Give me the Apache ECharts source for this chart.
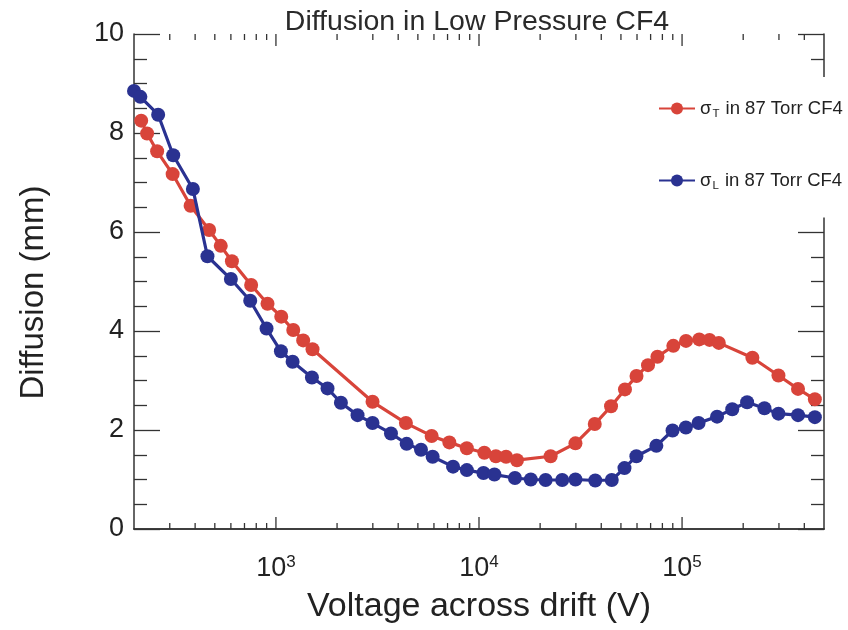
<!DOCTYPE html>
<html>
<head>
<meta charset="utf-8">
<script src="https://cdn.jsdelivr.net/npm/echarts@6/dist/echarts.min.js"></script>
<style>html,body{margin:0;padding:0;background:#fff;}#c{width:848px;height:630px;}</style>
</head>
<body>
<div id="c"></div>
<script>
// Data
const voltsT = [217,232,260,310,380,469,535,607,755,909,1062,1217,1362,1514,2990,4366,5845,7145,8710,10620,12110,13590,15380,22530,29850,37160,44690,52330,59670,67970,75640,90570,104600,121500,136500,151700,222000,298300,372400,450800];
const sigmaT = [8.25,7.99,7.63,7.17,6.53,6.04,5.72,5.41,4.93,4.55,4.29,4.02,3.81,3.63,2.57,2.14,1.88,1.75,1.63,1.54,1.47,1.46,1.39,1.47,1.73,2.12,2.48,2.82,3.09,3.31,3.48,3.70,3.80,3.83,3.82,3.76,3.46,3.10,2.83,2.62];
const voltsL = [200,215,263,312,390,460,600,747,899,1058,1208,1504,1795,2089,2523,2990,3686,4403,5180,5910,7450,8710,10520,11910,15030,17990,21290,25690,29850,37370,45070,52050,59570,74710,89760,104400,120600,148700,176700,209100,254500,298300,372400,450800];
const sigmaL = [8.85,8.73,8.37,7.55,6.87,5.51,5.05,4.61,4.05,3.59,3.38,3.06,2.84,2.55,2.30,2.14,1.93,1.72,1.60,1.46,1.26,1.19,1.13,1.10,1.03,1.00,0.99,0.99,1.00,0.98,0.99,1.23,1.47,1.68,1.99,2.05,2.14,2.27,2.42,2.56,2.44,2.33,2.30,2.26];
const xMajorTicks = [1000,10000,100000];
const xMinorTicks = [300,400,500,600,700,800,900,2000,3000,4000,5000,6000,7000,8000,9000,20000,30000,40000,50000,60000,70000,80000,90000,200000,300000,400000];
const xMin = 200, xMax = 500000;
const yMin = 0, yMax = 10, yStep = 2;
const titleText = 'Diffusion in Low Pressure CF4';
const xName = 'Voltage across drift (V)';
const yName = 'Diffusion (mm)';
const legendT = {name: 'sigmaT', sym: 'σ', sub: 'T', rest: ' in 87 Torr CF4'};
const legendL = {name: 'sigmaL', sym: 'σ', sub: 'L', rest: ' in 87 Torr CF4'};

const RED = '#d8443a', BLUE = '#2a3291', AX = '#333333', TXT = '#222222';
const FONT = '"Liberation Sans", Arial, Helvetica, sans-serif';

const chart = echarts.init(document.getElementById('c'), null, {renderer: 'canvas'});
const pair = (xs, ys) => xs.map((x, i) => [x, ys[i]]);
const legendRich = {
  s: {fontSize: 18.5, fontFamily: FONT, color: TXT, lineHeight: 22},
  sub: {fontSize: 11.5, fontFamily: FONT, color: TXT, lineHeight: 11, verticalAlign: 'bottom', padding: [0, 1, 0, 1]}
};
function legendFmt(item) {
  return n => '{s|' + item.sym + '}{sub|' + item.sub + '}{s|' + item.rest + '}';
}
const axisLine = {show: true, lineStyle: {color: AX, width: 1.5}};
const tickSeries = (vals, len) => ({
  type: 'custom', xAxisIndex: 0, yAxisIndex: 0, silent: true, clip: false, z: 1,
  data: vals.map(v => [v, yMin]),
  renderItem: function (params, api) {
    const b = api.coord([api.value(0), yMin]);
    const t = api.coord([api.value(0), yMax]);
    const st = {stroke: AX, lineWidth: 1.3};
    return {type: 'group', children: [
      {type: 'line', shape: {x1: b[0], y1: b[1], x2: b[0], y2: b[1] - len}, style: st},
      {type: 'line', shape: {x1: t[0], y1: t[1], x2: t[0], y2: t[1] + len}, style: st}
    ]};
  }
});

const option = {
  backgroundColor: '#fff',
  animation: false,
  title: {
    text: titleText, left: 477, top: 8, textAlign: 'center', padding: 0,
    textStyle: {fontFamily: FONT, fontSize: 28.5, fontWeight: 'normal', color: '#2a2a2a'}
  },
  legend: [
    {data: [legendT.name], orient: 'vertical', left: 638, top: 77, itemWidth: 36, itemHeight: 15,
     backgroundColor: '#ffffff', padding: [22, 14, 28, 20], z: 10,
     formatter: legendFmt(legendT), textStyle: {rich: legendRich}},
    {data: [legendL.name], orient: 'vertical', left: 638, top: 143, itemWidth: 36, itemHeight: 15,
     backgroundColor: '#ffffff', padding: [28, 14, 26, 20], z: 10,
     formatter: legendFmt(legendL), textStyle: {rich: legendRich}}
  ],
  grid: {left: 134, right: 24, top: 34, bottom: 101, containLabel: false},
  xAxis: [
    {type: 'log', logBase: 10, min: xMin, max: xMax, position: 'bottom',
     name: xName, nameLocation: 'middle', nameGap: 61,
     nameTextStyle: {fontFamily: FONT, fontSize: 34, color: TXT},
     axisLine: axisLine,
     axisTick: {show: false},
     axisLabel: {show: true, margin: 25, showMinLabel: false, showMaxLabel: false,
       formatter: v => '{b|10}{sup|' + Math.round(Math.log10(v)) + '}',
       rich: {b: {fontFamily: FONT, fontSize: 27, color: TXT, lineHeight: 30},
              sup: {fontFamily: FONT, fontSize: 17, color: TXT, lineHeight: 17, verticalAlign: 'top'}}},
     splitLine: {show: false}},
    {type: 'log', logBase: 10, min: xMin, max: xMax, position: 'top',
     axisLine: axisLine, axisTick: {show: false},
     axisLabel: {show: false}, splitLine: {show: false}}
  ],
  yAxis: [
    {type: 'value', min: yMin, max: yMax, interval: yStep, position: 'left',
     name: yName, nameLocation: 'middle', nameGap: 84, nameRotate: 90,
     nameTextStyle: {fontFamily: FONT, fontSize: 33, color: TXT, padding: [0, 22, 0, 0]},
     axisLine: axisLine,
     axisTick: {show: true, inside: true, length: 26, lineStyle: {color: AX, width: 1.3}},
     minorTick: {show: true, splitNumber: 4, length: 13, lineStyle: {color: AX, width: 1.3}},
     axisLabel: {show: true, margin: 10, fontFamily: FONT, fontSize: 27, color: TXT},
     splitLine: {show: false}},
    {type: 'value', min: yMin, max: yMax, interval: yStep, position: 'right',
     axisLine: axisLine,
     axisTick: {show: true, inside: true, length: 26, lineStyle: {color: AX, width: 1.3}},
     minorTick: {show: true, splitNumber: 4, length: 13, lineStyle: {color: AX, width: 1.3}},
     axisLabel: {show: false}, splitLine: {show: false}}
  ],
  series: [
    {name: legendT.name, type: 'line', xAxisIndex: 0, yAxisIndex: 0,
     data: pair(voltsT, sigmaT), symbol: 'circle', symbolSize: 14,
     lineStyle: {color: RED, width: 3.2}, itemStyle: {color: RED}, z: 3},
    {name: legendL.name, type: 'line', xAxisIndex: 0, yAxisIndex: 0,
     data: pair(voltsL, sigmaL), symbol: 'circle', symbolSize: 14,
     lineStyle: {color: BLUE, width: 3.2}, itemStyle: {color: BLUE}, z: 4},
    Object.assign({name: 'xmajor'}, tickSeries(xMajorTicks, 12)),
    Object.assign({name: 'xminor'}, tickSeries(xMinorTicks, 6))
  ]
};
chart.setOption(option);
</script>
</body>
</html>
